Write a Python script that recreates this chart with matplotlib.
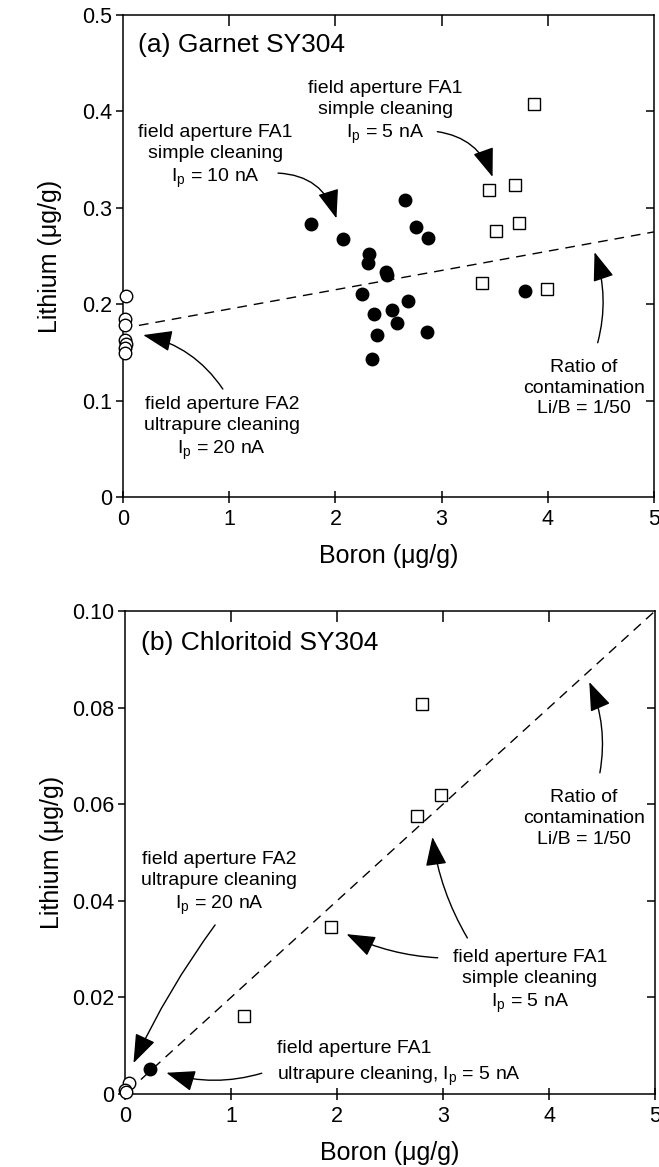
import matplotlib
matplotlib.use("Agg")
import matplotlib.pyplot as plt

plt.rcParams['font.family'] = ['Liberation Sans', 'DejaVu Sans']
plt.rcParams['mathtext.fontset'] = 'custom'
plt.rcParams['mathtext.rm'] = 'Liberation Sans'
plt.rcParams['mathtext.it'] = 'Liberation Sans:italic'

# ---------------- data: (a) Garnet SY304 ----------------
ga_fa1_10_B = [1.77, 2.07, 2.66, 2.76, 2.87, 2.32, 2.31, 2.48, 2.49, 2.25,
               2.68, 2.36, 2.53, 2.58, 2.39, 2.86, 2.34, 3.79]
ga_fa1_10_Li = [0.283, 0.268, 0.308, 0.280, 0.269, 0.252, 0.243, 0.233, 0.230, 0.211,
                0.203, 0.190, 0.194, 0.180, 0.168, 0.171, 0.143, 0.214]
ga_fa1_5_B = [3.45, 3.69, 3.51, 3.73, 3.38, 3.99, 3.87]
ga_fa1_5_Li = [0.318, 0.324, 0.276, 0.284, 0.222, 0.216, 0.408]
ga_fa2_B = [0.03, 0.02, 0.02, 0.02, 0.03, 0.02, 0.02]
ga_fa2_Li = [0.208, 0.185, 0.178, 0.163, 0.159, 0.155, 0.149]
ga_ratio_B = [0.15, 5.0]
ga_ratio_Li = [0.178, 0.275]

# ---------------- data: (b) Chloritoid SY304 ----------------
ch_fa1_5_B = [2.80, 2.98, 2.75, 1.94, 1.12]
ch_fa1_5_Li = [0.0808, 0.0619, 0.0576, 0.0346, 0.0162]
ch_fa1_up_B = [0.24]
ch_fa1_up_Li = [0.0052]
ch_fa2_B = [0.04, 0.0, 0.01]
ch_fa2_Li = [0.0022, 0.0009, 0.0005]
ch_ratio_B = [0.15, 5.0]
ch_ratio_Li = [0.003, 0.100]

x_ticks = [0, 1, 2, 3, 4, 5]
ga_y_ticks = [0, 0.1, 0.2, 0.3, 0.4, 0.5]
ga_y_labels = ['0', '0.1', '0.2', '0.3', '0.4', '0.5']
ch_y_ticks = [0, 0.02, 0.04, 0.06, 0.08, 0.10]
ch_y_labels = ['0', '0.02', '0.04', '0.06', '0.08', '0.10']

W, H = 659, 1167
fig = plt.figure(figsize=(W / 100, H / 100), dpi=100)
ax1 = fig.add_axes([123 / W, (H - 497) / H, 531 / W, 482 / H])
ax2 = fig.add_axes([125 / W, (H - 1094) / H, 530 / W, 483 / H])

ANN = 14
TICK = 15.5
LAB = 18
TITLE = 19
LS = 1.3


def style_axes(ax, yticks, ylabels, ymax):
    ax.set_xlim(0, 5)
    ax.set_ylim(0, ymax)
    ax.set_xticks(x_ticks)
    ax.set_xticklabels([str(t) for t in x_ticks])
    ax.set_yticks(yticks)
    ax.set_yticklabels(ylabels)
    for s in ax.spines.values():
        s.set_linewidth(1.1)
    ax.tick_params(axis='x', which='major', direction='inout', length=9, width=1.1,
                   labelsize=TICK, pad=4, top=False)
    ax.tick_params(axis='y', which='major', direction='out', length=5, width=1.1,
                   labelsize=TICK, pad=3, right=False)
    # top / right inward ticks without labels
    sec = ax.secondary_xaxis('top')
    sec.set_xticks(x_ticks[1:-1])
    sec.tick_params(direction='in', length=8, width=1.1, labelsize=0, labeltop=False)
    sec.spines['top'].set_visible(False)
    secy = ax.secondary_yaxis('right')
    secy.set_yticks(yticks[1:-1])
    secy.tick_params(direction='in', length=6, width=1.1, labelsize=0, labelright=False)
    secy.spines['right'].set_visible(False)
    ax.set_xlabel('Boron (\u03bcg/g)', fontsize=LAB)
    ax.set_ylabel('Lithium (\u03bcg/g)', fontsize=LAB)
    ax.xaxis.set_label_coords(0.5, -0.097)
    ax.yaxis.set_label_coords(-0.115, 0.5)


def arrow(ax, start, tip, rad):
    ax.annotate('', xy=tip, xytext=start,
                arrowprops=dict(arrowstyle='-|>,head_length=0.9,head_width=0.33',
                                mutation_scale=20, lw=1.0, color='black',
                                shrinkA=0, shrinkB=0,
                                connectionstyle=f'arc3,rad={rad}'))


MS_C = 9.0
MS_S = 8.3

# ---------------- panel (a) ----------------
style_axes(ax1, ga_y_ticks, ga_y_labels, 0.5)
ax1.plot(ga_ratio_B, ga_ratio_Li, color='black', lw=1.0, dashes=(7, 5), zorder=2)
ax1.plot(ga_fa1_10_B, ga_fa1_10_Li, 'o', ms=MS_C, mfc='black', mec='black', mew=1.0,
         ls='none', zorder=3)
ax1.plot(ga_fa1_5_B, ga_fa1_5_Li, 's', ms=MS_S, mfc='white', mec='black', mew=1.0,
         ls='none', zorder=3)
ax1.plot(ga_fa2_B, ga_fa2_Li, 'o', ms=MS_C, mfc='white', mec='black', mew=1.0,
         ls='none', zorder=4, clip_on=False)

ax1.text(0.14, 0.469, '(a) Garnet SY304', fontsize=TITLE, ha='left', va='center')
ax1.text(2.47, 0.398, 'field aperture FA1\nsimple cleaning\nI$_\\mathregular{p}$ = 5 nA',
         fontsize=ANN, ha='center', va='center', linespacing=LS)
ax1.text(0.87, 0.353, 'field aperture FA1\nsimple cleaning\nI$_\\mathregular{p}$ = 10 nA',
         fontsize=ANN, ha='center', va='center', linespacing=LS)
ax1.text(0.93, 0.0705, 'field aperture FA2\nultrapure cleaning\nI$_\\mathregular{p}$ = 20 nA',
         fontsize=ANN, ha='center', va='center', linespacing=LS)
ax1.text(4.34, 0.113, 'Ratio of\ncontamination\nLi/B = 1/50',
         fontsize=ANN, ha='center', va='center', linespacing=LS)

arrow(ax1, (2.96, 0.379), (3.48, 0.332), -0.3)
arrow(ax1, (1.46, 0.336), (2.01, 0.289), -0.35)
arrow(ax1, (0.94, 0.112), (0.19, 0.168), 0.2)
arrow(ax1, (4.47, 0.160), (4.44, 0.254), 0.15)

# ---------------- panel (b) ----------------
style_axes(ax2, ch_y_ticks, ch_y_labels, 0.1)
ax2.plot(ch_ratio_B, ch_ratio_Li, color='black', lw=1.0, dashes=(7, 5), zorder=2)
ax2.plot(ch_fa1_5_B, ch_fa1_5_Li, 's', ms=MS_S, mfc='white', mec='black', mew=1.0,
         ls='none', zorder=3)
ax2.plot(ch_fa1_up_B, ch_fa1_up_Li, 'o', ms=MS_C, mfc='black', mec='black', mew=1.0,
         ls='none', zorder=3)
ax2.plot(ch_fa2_B, ch_fa2_Li, 'o', ms=MS_C, mfc='white', mec='black', mew=1.0,
         ls='none', zorder=4, clip_on=False)

ax2.text(0.15, 0.0934, '(b) Chloritoid SY304', fontsize=TITLE, ha='left', va='center')
ax2.text(4.33, 0.0571, 'Ratio of\ncontamination\nLi/B = 1/50',
         fontsize=ANN, ha='center', va='center', linespacing=LS)
ax2.text(0.89, 0.0435, 'field aperture FA2\nultrapure cleaning\nI$_\\mathregular{p}$ = 20 nA',
         fontsize=ANN, ha='center', va='center', linespacing=LS)
ax2.text(3.82, 0.0232, 'field aperture FA1\nsimple cleaning\nI$_\\mathregular{p}$ = 5 nA',
         fontsize=ANN, ha='center', va='center', linespacing=LS)
ax2.text(1.43, 0.0062, 'field aperture FA1\nultrapure cleaning, I$_\\mathregular{p}$ = 5 nA',
         fontsize=ANN, ha='left', va='center', linespacing=1.5)

arrow(ax2, (4.48, 0.0665), (4.38, 0.0853), 0.15)
arrow(ax2, (0.85, 0.0350), (0.08, 0.0064), 0.05)
arrow(ax2, (2.95, 0.0282), (2.09, 0.0331), -0.1)
arrow(ax2, (3.23, 0.0323), (2.90, 0.0532), -0.1)
arrow(ax2, (1.29, 0.0043), (0.39, 0.0044), -0.15)

fig.savefig('out.png', dpi=100, facecolor='white')
